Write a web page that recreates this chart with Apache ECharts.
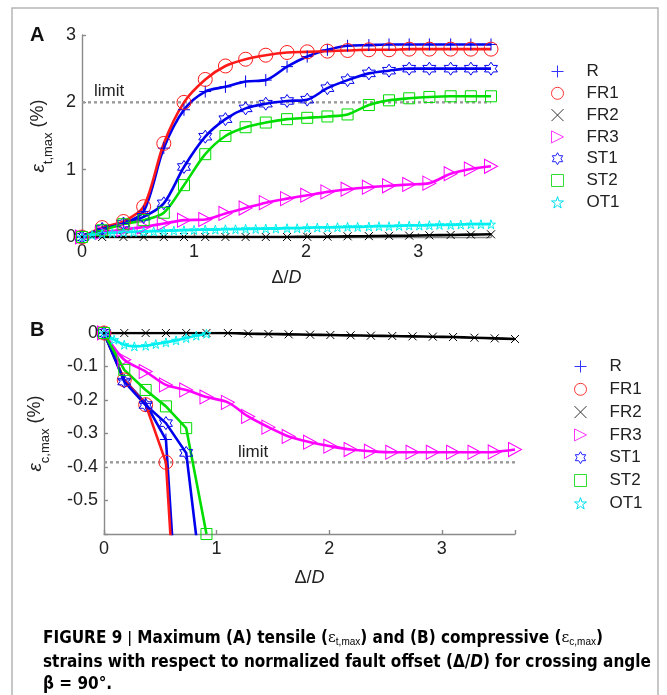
<!DOCTYPE html>
<html><head><meta charset="utf-8">
<script src="https://cdn.jsdelivr.net/npm/echarts@6/dist/echarts.min.js"></script>
<style>html,body{margin:0;padding:0;background:#fff}#c{width:667px;height:695px}</style>
</head><body><div id="c"></div>
<script>
// ---------------- data ----------------
const seriesNames = ['R', 'FR1', 'FR2', 'FR3', 'ST1', 'ST2', 'OT1'];
const deltaD = [0, 0.18, 0.37, 0.55, 0.73, 0.91, 1.10, 1.28, 1.46, 1.64, 1.83, 2.01, 2.19, 2.37, 2.56, 2.74, 2.92, 3.10, 3.29, 3.47, 3.65];
const deltaDFine = [0, 0.09, 0.18, 0.27, 0.37, 0.46, 0.55, 0.64, 0.73, 0.82, 0.91, 1.00, 1.10, 1.19, 1.28, 1.37, 1.46, 1.55, 1.64, 1.73, 1.83, 1.92, 2.01, 2.10, 2.19, 2.28, 2.37, 2.46, 2.56, 2.65, 2.74, 2.83, 2.92, 3.01, 3.10, 3.19, 3.29, 3.38, 3.47, 3.56, 3.65];

// Panel A: tensile strain (%)
const aR   = [0, 0.12, 0.20, 0.38, 1.32, 1.89, 2.16, 2.23, 2.31, 2.33, 2.53, 2.68, 2.78, 2.84, 2.85, 2.86, 2.86, 2.86, 2.86, 2.86, 2.86];
const aFR1 = [0, 0.14, 0.23, 0.45, 1.39, 2.00, 2.34, 2.54, 2.64, 2.70, 2.74, 2.75, 2.76, 2.77, 2.78, 2.78, 2.79, 2.79, 2.79, 2.79, 2.79];
const aFR2 = [0, 0, 0, 0, 0, 0, 0, 0, 0, 0, 0, 0.003, 0.006, 0.01, 0.013, 0.017, 0.02, 0.025, 0.03, 0.035, 0.04];
const aFR3 = [0, 0.07, 0.11, 0.15, 0.20, 0.25, 0.26, 0.35, 0.43, 0.51, 0.57, 0.62, 0.67, 0.71, 0.74, 0.76, 0.78, 0.80, 0.94, 1.01, 1.05];
const aST1 = [0, 0.12, 0.20, 0.30, 0.50, 1.04, 1.49, 1.75, 1.91, 1.98, 2.02, 2.04, 2.21, 2.33, 2.43, 2.47, 2.50, 2.50, 2.50, 2.50, 2.50];
const aST2 = [0, 0.10, 0.19, 0.25, 0.36, 0.77, 1.23, 1.50, 1.63, 1.70, 1.75, 1.77, 1.79, 1.82, 1.96, 2.03, 2.06, 2.08, 2.09, 2.09, 2.09];
const aOT1 = [0, 0.03, 0.05, 0.06, 0.07, 0.075, 0.08, 0.085, 0.09, 0.095, 0.10, 0.105, 0.11, 0.11, 0.115, 0.115, 0.12, 0.12, 0.125, 0.125, 0.13, 0.13, 0.135, 0.14, 0.14, 0.145, 0.15, 0.15, 0.155, 0.16, 0.16, 0.165, 0.17, 0.17, 0.175, 0.18, 0.18, 0.185, 0.19, 0.19, 0.19];

// Panel B: compressive strain (%)
const bR   = [0, -0.14, -0.21, -0.318, -1.26];
const bFR1 = [0, -0.14, -0.214, -0.386, -1.36];
const bFR2 = [0, 0, 0, 0, 0, 0, 0, -0.002, -0.003, -0.004, -0.005, -0.006, -0.007, -0.008, -0.009, -0.01, -0.011, -0.012, -0.014, -0.016, -0.018];
const bFR3 = [0, -0.08, -0.115, -0.155, -0.17, -0.191, -0.207, -0.249, -0.281, -0.309, -0.326, -0.338, -0.348, -0.353, -0.356, -0.356, -0.356, -0.356, -0.356, -0.355, -0.348];
const bST1 = [0, -0.145, -0.215, -0.269, -0.358, -0.86];
const bST2 = [0, -0.11, -0.17, -0.219, -0.284, -0.60];
const bOT1 = [0, -0.02, -0.035, -0.04, -0.038, -0.033, -0.028, -0.022, -0.015, -0.008, -0.002];

const limitX = [0, 3.65];
const limitA = 2.0;
const limitB = -0.386;

const xTicks = [0, 1, 2, 3];

// ---------------- styling ----------------
function starPath(n, rIn) {
  const pts = [];
  for (let k = 0; k < 2 * n; k++) {
    const a = (-90 + k * 180 / n) * Math.PI / 180;
    const r = k % 2 ? rIn : 10;
    pts.push((10 + r * Math.cos(a)).toFixed(2) + ',' + (10 + r * Math.sin(a)).toFixed(2));
  }
  return 'path://M' + pts.join('L') + 'Z';
}
const SYM = {
  R:   {sym: 'path://M0,5L10,5M5,0L5,10', size: 12, color: '#0000ee'},
  FR1: {sym: 'circle', size: 14, color: '#ff1a1a'},
  FR2: {sym: 'path://M0,0L10,10M10,0L0,10', size: 8, color: '#000000'},
  FR3: {sym: 'path://M0,0L10,5L0,10Z', size: [13, 14], color: '#ff00ff'},
  ST1: {sym: starPath(6, 5.77), size: 13, color: '#0000ee'},
  ST2: {sym: 'rect', size: 11, color: '#00dd00'},
  OT1: {sym: starPath(5, 3.82), size: 9, color: '#00f0f0'}
};
const LEG = {R:'#3333ff', FR1:'#ff3333', FR2:'#333333', FR3:'#ff33ff', ST1:'#2222ff', ST2:'#33dd33', OT1:'#00e0f0'};
const FONT = '"Liberation Sans", Arial, sans-serif';

function zip(xs, ys) { return ys.map((y, i) => [xs[i], y]); }

function mkSeries(name, xs, ys, idx, smooth, width) {
  const s = SYM[name];
  return {
    name, type: 'line', xAxisIndex: idx, yAxisIndex: idx,
    data: zip(xs, ys), smooth: smooth, clip: true,
    symbol: s.sym, symbolSize: s.size, showSymbol: true,
    lineStyle: {color: s.color, width: width || 2.6},
    itemStyle: {color: 'rgba(0,0,0,0)', borderColor: s.color, borderWidth: 1},
    emphasis: {disabled: true}, z: 3
  };
}
function limitSeries(idx, v) {
  return {
    name: 'limit' + idx, type: 'line', xAxisIndex: idx, yAxisIndex: idx,
    data: limitX.map(x => [x, v]), symbol: 'none',
    lineStyle: {color: '#999999', width: 2.4, type: [3, 3]}, z: 2, silent: true
  };
}

const axisLineStyle = {color: '#8a8a8a', width: 1.4};
function xAx(idx, nameGap) {
  return {
    gridIndex: idx, type: 'value', min: 0, max: 3.65, interval: 1,
    axisLine: {show: true, onZero: false, lineStyle: axisLineStyle},
    axisTick: {show: true, inside: true, length: 4, lineStyle: axisLineStyle},
    axisLabel: {fontSize: 18, color: '#222', margin: 6, fontFamily: FONT,
      formatter: v => xTicks.indexOf(v) >= 0 ? String(v) : ''},
    splitLine: {show: false},
    name: '{n|Δ/}{i|D}', nameLocation: 'middle', nameGap: nameGap,
    nameTextStyle: {rich: {n: {fontSize: 18, color: '#222', fontFamily: FONT}, i: {fontSize: 18, color: '#222', fontStyle: 'italic', fontFamily: FONT}}}
  };
}
function yAx(idx, opts, sub) {
  return Object.assign({
    gridIndex: idx, type: 'value',
    axisLine: {show: true, onZero: false, lineStyle: axisLineStyle},
    axisTick: {show: true, inside: true, length: 4, lineStyle: axisLineStyle},
    splitLine: {show: false},
    name: '{e|ε}{s|' + sub + '}{n| (%)}', nameLocation: 'middle', nameRotate: 90, nameGap: 25,
    nameTextStyle: {rich: {
      e: {fontSize: 19, color: '#222', fontFamily: FONT, fontStyle: 'italic', lineHeight: 26, verticalAlign: 'top'},
      s: {fontSize: 13, color: '#222', fontFamily: FONT, lineHeight: 26, verticalAlign: 'bottom'},
      n: {fontSize: 18, color: '#222', fontFamily: FONT, lineHeight: 26, verticalAlign: 'top'}
    }}
  }, opts);
}

function legendData() {
  return seriesNames.map(n => ({
    name: n, icon: SYM[n].sym === 'circle' ? 'circle' : (SYM[n].sym === 'rect' ? 'rect' : SYM[n].sym),
    itemStyle: {color: 'rgba(0,0,0,0)', borderColor: LEG[n], borderWidth: 1}
  }));
}

const series = [limitSeries(0, limitA), limitSeries(1, limitB)];
const aData = {R: aR, FR1: aFR1, FR2: aFR2, FR3: aFR3, ST1: aST1, ST2: aST2, OT1: aOT1};
const bData = {R: bR, FR1: bFR1, FR2: bFR2, FR3: bFR3, ST1: bST1, ST2: bST2, OT1: bOT1};
seriesNames.forEach(n => {
  series.push(mkSeries(n, n === 'OT1' ? deltaDFine : deltaD, aData[n], 0, 0.3));
});
seriesNames.forEach(n => {
  const sm = (n === 'FR3' || n === 'OT1' || n === 'FR2') ? 0.3 : false;
  series.push(mkSeries(n, n === 'OT1' ? deltaDFine : deltaD, bData[n], 1, sm));
});

const capB = {fontSize: 17, fontWeight: 'bold', color: '#222', fontFamily: '"Liberation Sans Narrow", "DejaVu Sans Condensed", Arial, sans-serif'};
const capRich = {
  b: capB,
  bi: Object.assign({}, capB, {fontStyle: 'italic'}),
  p: {fontSize: 17, color: '#777', fontFamily: FONT},
  e: {fontSize: 15, color: '#222', fontFamily: '"DejaVu Serif", serif'},
  s: {fontSize: 10, color: '#222', fontFamily: FONT, padding: [8, 0, 0, 0]}
};

const chart = echarts.init(document.getElementById('c'), null, {renderer: 'canvas'});
chart.setOption({
  animation: false,
  backgroundColor: '#fff',
  grid: [
    {left: 82, top: 35, width: 409, height: 202},
    {left: 104, top: 333, width: 411, height: 201}
  ],
  xAxis: [xAx(0, 32), xAx(1, 35)],
  yAxis: [
    yAx(0, {min: 0, max: 3, interval: 1,
      axisLabel: {fontSize: 18, color: '#222', margin: 6, fontFamily: FONT}}, 't,max'),
    yAx(1, {min: -0.6, max: 0, interval: 0.1, nameGap: 52,
      axisLabel: {fontSize: 18, color: '#222', margin: 6, fontFamily: FONT,
        formatter: v => Math.abs(v + 0.6) < 1e-6 ? '' : String(Math.round(v * 10) / 10)}}, 'c,max')
  ],
  legend: [
    {data: legendData(), orient: 'vertical', left: 546, top: 58, itemWidth: 12, itemHeight: 12,
     itemGap: 4.8, selectedMode: false, textStyle: {fontSize: 17, color: '#222', fontFamily: FONT, lineHeight: 17, padding: [0, 0, 0, 18]}},
    {data: legendData(), orient: 'vertical', left: 569, top: 353, itemWidth: 12, itemHeight: 12,
     itemGap: 5.8, selectedMode: false, textStyle: {fontSize: 17, color: '#222', fontFamily: FONT, lineHeight: 17, padding: [0, 0, 0, 18]}}
  ],
  series: series,
  graphic: [
    {type: 'rect', shape: {x: 12, y: 8, width: 646, height: 720}, style: {fill: 'none', stroke: '#b5b5b5', lineWidth: 1.5}, silent: true},
    {type: 'text', left: 30, top: 25, style: {text: 'A', font: 'bold 20px "Liberation Sans", Arial', fill: '#111'}},
    {type: 'text', left: 30, top: 320, style: {text: 'B', font: 'bold 20px "Liberation Sans", Arial', fill: '#111'}},
    {type: 'text', left: 94, top: 83, style: {text: 'limit', font: '17px "Liberation Sans", Arial', fill: '#222'}},
    {type: 'text', left: 238, top: 444, style: {text: 'limit', font: '17px "Liberation Sans", Arial', fill: '#222'}},
    {type: 'text', left: 43, top: 630, style: {
      text: '{b|FIGURE 9 }{p||}{b| Maximum (A) tensile (}{e|ε}{s|t,max}{b|) and (B) compressive (}{e|ε}{s|c,max}{b|)}',
      rich: capRich}},
    {type: 'text', left: 43, top: 654, style: {
      text: '{b|strains with respect to normalized fault offset (Δ/}{bi|D}{b|) for crossing angle}', rich: capRich}},
    {type: 'text', left: 43, top: 676, style: {text: '{b|β = 90°.}', rich: capRich}}
  ]
});
</script></body></html>
